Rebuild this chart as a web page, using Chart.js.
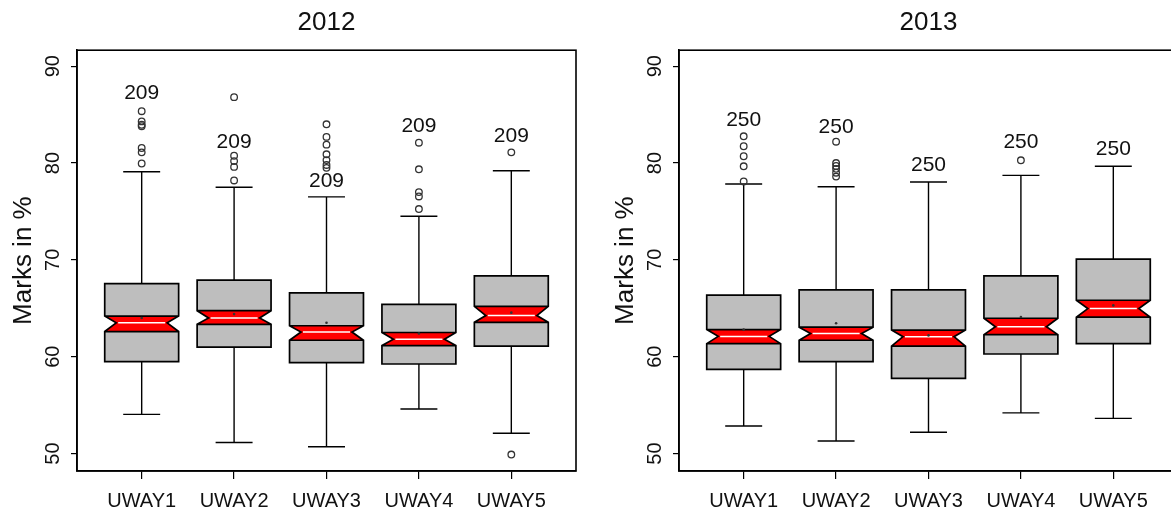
<!DOCTYPE html>
<html>
<head>
<meta charset="utf-8">
<title>Marks by UWAY, 2012 and 2013</title>
<script src="https://cdn.jsdelivr.net/npm/chart.js@4.4.1/dist/chart.umd.min.js"></script>
<style>
  html, body { margin: 0; padding: 0; background: #fff; overflow: hidden; }
  .panel { position: absolute; top: 0; width: 600px; height: 512px; }
  #left { left: 0; }
  #right { left: 602px; }
</style>
</head>
<body>
<div class="panel" id="left"><canvas id="chart2012" width="600" height="512"></canvas></div>
<div class="panel" id="right"><canvas id="chart2013" width="600" height="512"></canvas></div>

<script>
// Categories and axis ticks
const categories = ['UWAY1', 'UWAY2', 'UWAY3', 'UWAY4', 'UWAY5'];
const yTicks = [50, 60, 70, 80, 90];

// 2012 box statistics
const whiskLo2012 = [54.05, 51.15, 50.7, 54.6, 52.1];
const q1_2012 = [59.5, 61.0, 59.4, 59.25, 61.1];
const notchLo2012 = [62.6, 63.35, 61.7, 61.15, 63.55];
const median2012 = [63.5, 64.0, 62.55, 61.8, 64.25];
const notchHi2012 = [64.2, 64.75, 63.2, 62.5, 65.2];
const q3_2012 = [67.55, 67.9, 66.6, 65.4, 68.35];
const whiskHi2012 = [79.1, 77.5, 76.5, 74.5, 79.2];
const mean2012 = [64.0, 64.4, 63.5, 62.4, 64.55];
const outliers2012 = [
    [85.35, 84.3, 83.95, 83.8, 81.55, 81.1, 79.95],
    [86.8, 80.75, 80.2, 79.6, 78.2],
    [84.0, 82.7, 81.9, 80.9, 80.3, 79.8, 79.5],
    [82.1, 79.35, 77.0, 76.55, 75.25],
    [81.1, 49.9]
];
const counts2012 = [209, 209, 209, 209, 209];
const countY2012 = [87.25, 82.15, 78.1, 83.85, 82.75];

// 2013 box statistics
const whiskLo2013 = [52.85, 51.3, 52.2, 54.2, 53.63];
const q1_2013 = [58.7, 59.5, 57.77, 60.28, 61.35];
const notchLo2013 = [61.35, 61.7, 61.1, 62.28, 64.08];
const median2013 = [62.1, 62.4, 62.07, 63.1, 64.97];
const notchHi2013 = [62.8, 63.05, 62.75, 63.97, 65.83];
const q3_2013 = [66.35, 66.9, 66.9, 68.35, 70.07];
const whiskHi2013 = [77.83, 77.55, 78.04, 78.73, 79.66];
const mean2013 = [62.8, 63.45, 62.2, 64.1, 65.3];
const outliers2013 = [
    [82.76, 81.73, 80.7, 79.66, 78.1],
    [82.2, 80.0, 79.7, 79.4, 79.0, 78.6],
    [],
    [80.28],
    []
];
const counts2013 = [250, 250, 250, 250, 250];
const countY2013 = [84.4, 83.75, 79.75, 82.2, 81.4];

const FONT = "'Liberation Sans', Arial, Helvetica, sans-serif";
const TEXT = '#111';
const BOX_W = 0.8;       // box width in x units
const STAPLE_W = 0.4;    // whisker cap width in x units
const NOTCH_FRAC = 0.69; // width at the median relative to the box

// Draws the notched boxes, whiskers and n labels through the chart's scales
function notchBoxPlugin(s) {
    return {
        id: 'notchBoxes',
        beforeDatasetsDraw(chart) {
            const ctx = chart.ctx;
            const xs = chart.scales.x;
            const ys = chart.scales.y;
            ctx.save();
            for (let i = 0; i < categories.length; i++) {
                const p = i + 1;
                const cx = xs.getPixelForValue(p);
                const L = xs.getPixelForValue(p - BOX_W / 2);
                const R = xs.getPixelForValue(p + BOX_W / 2);
                const inL = xs.getPixelForValue(p - BOX_W / 2 * NOTCH_FRAC);
                const inR = xs.getPixelForValue(p + BOX_W / 2 * NOTCH_FRAC);
                const sL = xs.getPixelForValue(p - STAPLE_W / 2);
                const sR = xs.getPixelForValue(p + STAPLE_W / 2);
                const yQ1 = ys.getPixelForValue(s.q1[i]);
                const yQ3 = ys.getPixelForValue(s.q3[i]);
                const yMed = ys.getPixelForValue(s.median[i]);
                const yNLo = ys.getPixelForValue(s.notchLo[i]);
                const yNHi = ys.getPixelForValue(s.notchHi[i]);
                const yWLo = ys.getPixelForValue(s.whiskLo[i]);
                const yWHi = ys.getPixelForValue(s.whiskHi[i]);

                // whiskers
                ctx.strokeStyle = '#000';
                ctx.lineWidth = 1.4;
                ctx.beginPath();
                ctx.moveTo(cx, yQ3); ctx.lineTo(cx, yWHi);
                ctx.moveTo(sL, yWHi); ctx.lineTo(sR, yWHi);
                ctx.moveTo(cx, yQ1); ctx.lineTo(cx, yWLo);
                ctx.moveTo(sL, yWLo); ctx.lineTo(sR, yWLo);
                ctx.stroke();

                // notched box outline
                const outline = [
                    [L, yQ1], [L, yNLo], [inL, yMed], [L, yNHi], [L, yQ3],
                    [R, yQ3], [R, yNHi], [inR, yMed], [R, yNLo], [R, yQ1]
                ];
                ctx.beginPath();
                outline.forEach(([px, py], k) => k ? ctx.lineTo(px, py) : ctx.moveTo(px, py));
                ctx.closePath();
                ctx.fillStyle = '#bebebe';
                ctx.fill();

                // red notch band
                ctx.beginPath();
                ctx.moveTo(L, yNLo); ctx.lineTo(inL, yMed); ctx.lineTo(L, yNHi);
                ctx.lineTo(R, yNHi); ctx.lineTo(inR, yMed); ctx.lineTo(R, yNLo);
                ctx.closePath();
                ctx.fillStyle = '#ff0000';
                ctx.fill();

                ctx.lineWidth = 1.7;
                ctx.strokeStyle = '#000';
                ctx.beginPath();
                outline.forEach(([px, py], k) => k ? ctx.lineTo(px, py) : ctx.moveTo(px, py));
                ctx.closePath();
                ctx.moveTo(L, yNHi); ctx.lineTo(R, yNHi);
                ctx.moveTo(L, yNLo); ctx.lineTo(R, yNLo);
                ctx.stroke();

                // median
                ctx.strokeStyle = '#fff';
                ctx.lineWidth = 1.5;
                ctx.beginPath();
                ctx.moveTo(inL + 2, yMed); ctx.lineTo(inR - 2, yMed);
                ctx.stroke();

                // n labels
                ctx.fillStyle = TEXT;
                ctx.font = '21px ' + FONT;
                ctx.textAlign = 'center';
                ctx.textBaseline = 'middle';
                ctx.fillText(String(s.counts[i]), cx, ys.getPixelForValue(s.countY[i]));
            }
            ctx.restore();
        },
        afterDraw(chart) {
            const a = chart.chartArea;
            const ctx = chart.ctx;
            ctx.save();
            ctx.strokeStyle = '#000';
            ctx.lineWidth = 1.6;
            ctx.strokeRect(a.left, a.top, a.right - a.left, a.bottom - a.top);
            ctx.restore();
        }
    };
}

function makePanel(canvasId, title, s) {
    const outlierPoints = s.outliers.flatMap((vals, i) => vals.map(v => ({ x: i + 1, y: v })));
    const meanPoints = s.mean.map((v, i) => ({ x: i + 1, y: v }));

    new Chart(document.getElementById(canvasId), {
        type: 'scatter',
        data: {
            datasets: [
                {
                    label: 'Outliers',
                    data: outlierPoints,
                    pointStyle: 'circle',
                    pointRadius: 3.3,
                    pointBorderWidth: 1.3,
                    pointBorderColor: '#333',
                    pointBackgroundColor: 'rgba(0,0,0,0)'
                },
                {
                    label: 'Mean',
                    data: meanPoints,
                    pointRadius: 1.3,
                    pointBorderWidth: 0,
                    pointBackgroundColor: '#333'
                }
            ]
        },
        options: {
            responsive: false,
            animation: false,
            devicePixelRatio: 1,
            layout: { padding: { left: 0, right: 24, top: 0, bottom: 0 } },
            plugins: {
                legend: { display: false },
                tooltip: { enabled: false },
                title: {
                    display: true,
                    text: title,
                    fullSize: false,
                    color: TEXT,
                    font: { family: FONT, size: 26, weight: 'normal' },
                    padding: { top: 7, bottom: 12 }
                }
            },
            scales: {
                x: {
                    type: 'linear',
                    min: 0.3,
                    max: 5.7,
                    afterBuildTicks: scale => { scale.ticks = categories.map((c, i) => ({ value: i + 1 })); },
                    afterFit: scale => { scale.height = 41; },
                    ticks: {
                        callback: v => categories[v - 1],
                        autoSkip: false,
                        maxRotation: 0,
                        padding: 10,
                        color: TEXT,
                        font: { family: FONT, size: 20 }
                    },
                    grid: { drawOnChartArea: false, drawTicks: true, tickLength: 8, color: '#000', lineWidth: 1.2 },
                    border: { display: true, color: '#000', width: 1.6 }
                },
                y: {
                    type: 'linear',
                    min: 48.2,
                    max: 91.65,
                    afterBuildTicks: scale => { scale.ticks = yTicks.map(v => ({ value: v })); },
                    afterFit: scale => { scale.width = 77; },
                    ticks: {
                        minRotation: 90,
                        maxRotation: 90,
                        crossAlign: 'center',
                        padding: 6,
                        color: TEXT,
                        font: { family: FONT, size: 20 }
                    },
                    grid: { drawOnChartArea: false, drawTicks: true, tickLength: 6, color: '#000', lineWidth: 1.2 },
                    border: { display: true, color: '#000', width: 1.6 },
                    title: {
                        display: true,
                        text: 'Marks in %',
                        color: TEXT,
                        font: { family: FONT, size: 26 },
                        padding: { top: 8, bottom: 0 }
                    }
                }
            }
        },
        plugins: [notchBoxPlugin(s)]
    });
}

makePanel('chart2012', '2012', {
    whiskLo: whiskLo2012, q1: q1_2012, notchLo: notchLo2012, median: median2012,
    notchHi: notchHi2012, q3: q3_2012, whiskHi: whiskHi2012, mean: mean2012,
    outliers: outliers2012, counts: counts2012, countY: countY2012
});

makePanel('chart2013', '2013', {
    whiskLo: whiskLo2013, q1: q1_2013, notchLo: notchLo2013, median: median2013,
    notchHi: notchHi2013, q3: q3_2013, whiskHi: whiskHi2013, mean: mean2013,
    outliers: outliers2013, counts: counts2013, countY: countY2013
});
</script>
</body>
</html>
